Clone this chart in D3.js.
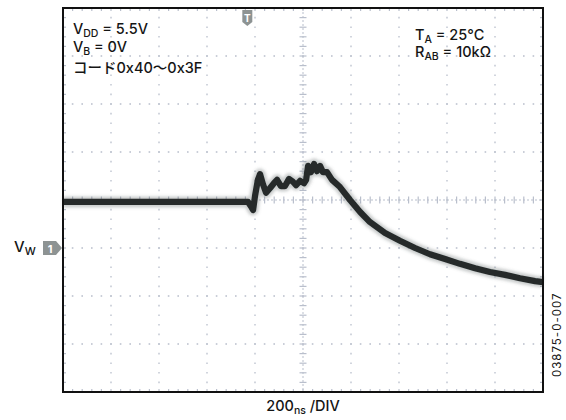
<!DOCTYPE html>
<html>
<head>
<meta charset="utf-8">
<script src="https://cdn.jsdelivr.net/npm/d3@7"></script>
<style>
  html, body { margin: 0; padding: 0; background: #ffffff; }
  svg text { font-family: Inter, "Liberation Sans", Arial, "Noto Sans CJK JP", sans-serif; font-weight: 500; fill: #151515; }
</style>
</head>
<body>
<svg id="chart" width="566" height="420"></svg>
<script>
// Wiper output (CH1) after a code step 0x40 -> 0x3F, 200 ns/div.
// Time in ns from the left edge of the screen, level in divisions from the centre line.
const timeNs = [0, 771, 783, 792, 800, 812, 821, 833, 846, 863, 879, 892, 908, 925, 942, 958, 971, 988,
  1004, 1013, 1021, 1033, 1046, 1058, 1071, 1083, 1100, 1121, 1154, 1196, 1238, 1279, 1342, 1404,
  1467, 1529, 1592, 1654, 1717, 1779, 1842, 1904, 1967, 2000];
const levelDiv = [-0.04, -0.04, -0.13, -0.21, 0.08, 0.42, 0.54, 0.33, 0.15, 0.25, 0.35, 0.42, 0.29, 0.29,
  0.44, 0.38, 0.31, 0.40, 0.35, 0.42, 0.71, 0.58, 0.75, 0.60, 0.71, 0.58, 0.58, 0.42, 0.27, 0.0,
  -0.25, -0.46, -0.69, -0.85, -1.0, -1.13, -1.23, -1.33, -1.42, -1.5, -1.56, -1.63, -1.69, -1.71];

const xDivs = [0, 1, 2, 3, 4, 5, 6, 7, 8, 9, 10];
const yDivs = [-4, -3, -2, -1, 0, 1, 2, 3, 4];
const triggerNs = 768;     // trigger point marker
const ch1GroundDiv = -1;   // CH1 reference marker

const svg = d3.select("#chart");
const L = 63, R = 543, T = 8, B = 392;
const x = d3.scaleLinear().domain([0, 2000]).range([L, R]);
const y = d3.scaleLinear().domain([-4, 4]).range([B, T]);
const divW = (R - L) / 10, divH = (B - T) / 8;

const defs = svg.append("defs");
defs.append("filter").attr("id", "soft").attr("x", "-5%").attr("y", "-20%").attr("width", "110%").attr("height", "140%")
  .append("feGaussianBlur").attr("stdDeviation", 1.5);
defs.append("filter").attr("id", "soft2")
  .append("feGaussianBlur").attr("stdDeviation", 0.7);

const gridColor = "#b9bfcc";
const grid = svg.append("g");

// dotted graticule
xDivs.slice(1, -1).filter(d => d !== 5).forEach(d => {
  grid.append("line").attr("x1", x(d * 200)).attr("x2", x(d * 200)).attr("y1", T).attr("y2", B)
    .attr("stroke", gridColor).attr("stroke-width", 1.3)
    .attr("stroke-dasharray", `1.6 ${divH / 5 - 1.6}`).attr("stroke-dashoffset", 0.8);
});
yDivs.slice(1, -1).filter(d => d !== 0).forEach(d => {
  grid.append("line").attr("y1", y(d)).attr("y2", y(d)).attr("x1", L).attr("x2", R)
    .attr("stroke", gridColor).attr("stroke-width", 1.3)
    .attr("stroke-dasharray", `1.6 ${divW / 5 - 1.6}`).attr("stroke-dashoffset", 0.8);
});

// centre axes with minor ticks
const xc = x(1000), yc = y(0);
grid.append("line").attr("x1", xc).attr("x2", xc).attr("y1", T).attr("y2", B)
  .attr("stroke", gridColor).attr("stroke-width", 1).attr("stroke-dasharray", "2 2");
grid.append("line").attr("y1", yc).attr("y2", yc).attr("x1", L).attr("x2", R)
  .attr("stroke", gridColor).attr("stroke-width", 1).attr("stroke-dasharray", "2 2");
const minorY = d3.range(1, 40).map(i => T + i * divH / 5);
const minorX = d3.range(1, 50).map(i => L + i * divW / 5);
grid.selectAll(null).data(minorY).join("line")
  .attr("x1", xc - 3.5).attr("x2", xc + 3.5).attr("y1", d => d).attr("y2", d => d)
  .attr("stroke", gridColor).attr("stroke-width", 1.2);
grid.selectAll(null).data(minorX).join("line")
  .attr("y1", yc - 3.5).attr("y2", yc + 3.5).attr("x1", d => d).attr("x2", d => d)
  .attr("stroke", gridColor).attr("stroke-width", 1.2);

// edge ticks along the frame
grid.selectAll(null).data(minorX).join("line")
  .attr("x1", d => d).attr("x2", d => d).attr("y1", B - 3).attr("y2", B)
  .attr("stroke", gridColor).attr("stroke-width", 1.2);
grid.selectAll(null).data(minorX).join("line")
  .attr("x1", d => d).attr("x2", d => d).attr("y1", T).attr("y2", T + 3)
  .attr("stroke", gridColor).attr("stroke-width", 1.2);
grid.selectAll(null).data(minorY).join("line")
  .attr("y1", d => d).attr("y2", d => d).attr("x1", L).attr("x2", L + 3)
  .attr("stroke", gridColor).attr("stroke-width", 1.2);
grid.selectAll(null).data(minorY).join("line")
  .attr("y1", d => d).attr("y2", d => d).attr("x1", R - 3).attr("x2", R)
  .attr("stroke", gridColor).attr("stroke-width", 1.2);

// waveform
const pts = timeNs.map((t, i) => [t, levelDiv[i]]);
const line = d3.line().x(d => x(d[0])).y(d => y(d[1])).curve(d3.curveLinear);
const trace = svg.append("g");
trace.append("path").attr("d", line(pts)).attr("fill", "none")
  .attr("stroke", "#5a6060").attr("stroke-opacity", 0.32).attr("stroke-width", 11)
  .attr("stroke-linejoin", "round").attr("filter", "url(#soft)");
trace.append("path").attr("d", line(pts)).attr("fill", "none")
  .attr("stroke", "#252b2b").attr("stroke-width", 6.2)
  .attr("stroke-linejoin", "round").attr("filter", "url(#soft2)");

// frame
svg.append("rect").attr("x", L).attr("y", T).attr("width", R - L).attr("height", B - T)
  .attr("fill", "none").attr("stroke", "#111").attr("stroke-width", 2);

// trigger marker
const tx = x(triggerNs);
const tm = svg.append("g");
tm.append("path").attr("d", `M${tx - 5},${T + 2} L${tx + 5},${T + 2} L${tx + 5},${T + 14} L${tx},${T + 18} L${tx - 5},${T + 14} Z`)
  .attr("fill", "#8d9393");
tm.append("text").attr("x", tx).attr("y", T + 13.5).attr("text-anchor", "middle")
  .attr("font-size", 10).style("font-weight", "bold").style("fill", "#fff").text("T");

// CH1 ground marker
const gy = y(ch1GroundDiv);
const cm = svg.append("g");
cm.append("path").attr("d", `M${L - 20},${gy - 7} L${L - 7},${gy - 7} L${L - 1},${gy} L${L - 7},${gy + 7} L${L - 20},${gy + 7} Z`)
  .attr("fill", "#8d9393");
cm.append("text").attr("x", L - 13).attr("y", gy + 4.5).attr("text-anchor", "middle")
  .attr("font-size", 11).style("font-weight", "bold").style("fill", "#fff").text("1");
const vw = svg.append("text").attr("x", 14).attr("y", gy + 4).attr("font-size", 15);
vw.append("tspan").text("V");
vw.append("tspan").attr("dy", 3).attr("font-size", 11).text("W");

// annotations
function sub(sel, main, s, rest) {
  sel.attr("font-size", 14.5);
  sel.append("tspan").text(main);
  sel.append("tspan").attr("dy", 2.5).attr("font-size", 10.5).text(s);
  sel.append("tspan").attr("dy", -2.5).text(rest);
}
sub(svg.append("text").attr("x", 73).attr("y", 34), "V", "DD", " = 5.5V");
sub(svg.append("text").attr("x", 73).attr("y", 52), "V", "B", " = 0V");
svg.append("text").attr("x", 73).attr("y", 72.5).attr("font-size", 14.5).text("コード0x40～0x3F");
sub(svg.append("text").attr("x", 415).attr("y", 40), "T", "A", " = 25°C");
sub(svg.append("text").attr("x", 415).attr("y", 57), "R", "AB", " = 10kΩ");

// time base
const tb = svg.append("text").attr("x", xc).attr("y", 411).attr("text-anchor", "middle")
  .attr("font-size", 14.5);
tb.append("tspan").text("200");
tb.append("tspan").attr("dy", 3).attr("font-size", 10.5).text("ns");
tb.append("tspan").attr("dy", -3).text(" /DIV");

// figure id
svg.append("text").attr("transform", "translate(561,377) rotate(-90)").attr("font-size", 11.5)
  .style("font-weight", 400).attr("letter-spacing", 1).text("03875-0-007");
</script>
</body>
</html>
